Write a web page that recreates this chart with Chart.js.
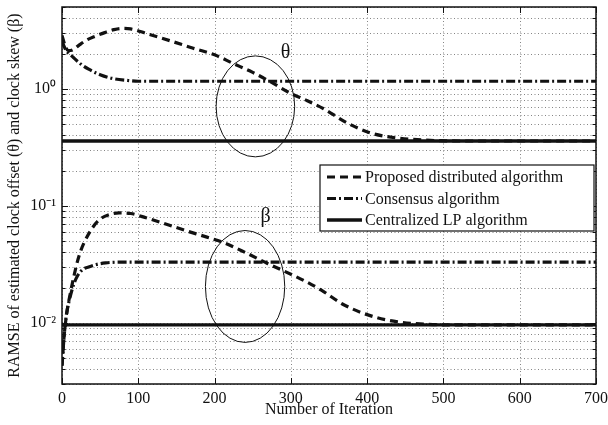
<!DOCTYPE html>
<html><head><meta charset="utf-8">
<script src="https://cdn.jsdelivr.net/npm/chart.js@4.4.0/dist/chart.umd.min.js"></script>
<style>html,body{margin:0;padding:0;background:#fff}#wrap{width:608px;height:425px}</style>
</head><body><div id="wrap"><canvas id="c" width="608" height="425"></canvas></div>
<script>
// ---- data ----
const xTicks = [0, 100, 200, 300, 400, 500, 600, 700];
const yMajorTicks = [0.01, 0.1, 1];

const proposedThetaIter = [0, 4, 8, 14, 22, 32, 44, 56, 68, 78, 90, 112, 142, 172, 200, 225, 250, 273, 299, 320, 343, 374, 404, 439, 473, 520, 600, 700];
const proposedTheta     = [2.85, 2.35, 2.12, 2.15, 2.35, 2.6, 2.82, 3.02, 3.2, 3.28, 3.25, 2.95, 2.57, 2.22, 1.95, 1.64, 1.38, 1.15, 0.92, 0.8, 0.675, 0.51, 0.42, 0.38, 0.365, 0.358, 0.358, 0.358];

const consensusThetaIter = [0, 5, 15, 25, 35, 50, 65, 85, 100, 700];
const consensusTheta     = [2.55, 2.15, 1.85, 1.62, 1.47, 1.32, 1.23, 1.18, 1.16, 1.16];

const centralThetaIter = [0, 700];
const centralTheta     = [0.358, 0.358];

const proposedBetaIter = [0, 3, 7, 11, 15, 20, 25, 30, 40, 50, 62, 75, 90, 110, 130, 160, 190, 210, 240, 270, 300, 320, 340, 370, 410, 440, 480, 520, 600, 700];
const proposedBeta     = [0.0043, 0.008, 0.013, 0.018, 0.024, 0.033, 0.042, 0.05, 0.065, 0.077, 0.084, 0.087, 0.086, 0.079, 0.072, 0.062, 0.054, 0.049, 0.040, 0.032, 0.026, 0.0225, 0.019, 0.0142, 0.0112, 0.0102, 0.0097, 0.0096, 0.0096, 0.0096];

const consensusBetaIter = [0, 3, 6, 10, 15, 20, 27, 35, 45, 57, 75, 100, 700];
const consensusBeta     = [0.0043, 0.008, 0.012, 0.016, 0.021, 0.025, 0.0285, 0.030, 0.0315, 0.0325, 0.033, 0.033, 0.033];

const centralBetaIter = [0, 700];
const centralBeta     = [0.0096, 0.0096];

const legendLabels = ['Proposed distributed algorithm', 'Consensus algorithm', 'Centralized LP algorithm'];

// annotation ellipses (data space bounds) and their labels
const thetaEllipse = {x0: 202, x1: 305, y0: 0.262, y1: 1.91};
const betaEllipse  = {x0: 188, x1: 292, y0: 0.0068, y1: 0.0615};
const thetaLabel = {x: 293, y: 2.03, text: 'θ'};
const betaLabel  = {x: 267, y: 0.0806, text: 'β'};

// ---- chart ----
const FONT = '"Liberation Serif", "Times New Roman", serif';
const pts = (xs, ys) => xs.map((x, i) => ({x, y: ys[i]}));
const styleDashed = {borderDash: [8, 5], borderWidth: 3.2};
const styleDashDot = {borderDash: [9, 3, 2, 3], borderWidth: 3.2};
const styleSolid = {borderDash: [], borderWidth: 3.4};
const GRID_DASH = [1, 2.5];

function ds(label, xs, ys, st) {
  return Object.assign({label, data: pts(xs, ys), borderColor: '#111', backgroundColor: '#111',
    pointRadius: 0, fill: false, cubicInterpolationMode: 'monotone', borderCapStyle: 'butt'}, st);
}

const datasets = [
  ds(legendLabels[2], centralThetaIter, centralTheta, styleSolid),
  ds(legendLabels[2], centralBetaIter, centralBeta, styleSolid),
  ds(legendLabels[1], consensusThetaIter, consensusTheta, styleDashDot),
  ds(legendLabels[1], consensusBetaIter, consensusBeta, styleDashDot),
  ds(legendLabels[0], proposedThetaIter, proposedTheta, styleDashed),
  ds(legendLabels[0], proposedBetaIter, proposedBeta, styleDashed),
];

const isPow10 = v => Math.abs(Math.log10(v) - Math.round(Math.log10(v))) < 1e-9;
const supMap = {'0':'⁰','1':'¹','2':'²','3':'³','4':'⁴','5':'⁵','6':'⁶','7':'⁷','8':'⁸','9':'⁹','-':'⁻'};
const powLabel = v => '10' + String(Math.round(Math.log10(v))).split('').map(c => supMap[c]).join('');

const deco = {
  id: 'deco',
  beforeDatasetsDraw(chart) {
    // dotted grid lines at every scale tick
    const {ctx, chartArea: a, scales: {x, y}} = chart;
    ctx.save();
    ctx.strokeStyle = '#858585'; ctx.lineWidth = 1;
    ctx.setLineDash(GRID_DASH);
    ctx.beginPath();
    for (const t of y.ticks) {
      const py = Math.round(y.getPixelForValue(t.value)) + 0.5;
      ctx.moveTo(a.left, py); ctx.lineTo(a.right, py);
    }
    for (const t of x.ticks) {
      const px = Math.round(x.getPixelForValue(t.value)) + 0.5;
      ctx.moveTo(px, a.top); ctx.lineTo(px, a.bottom);
    }
    ctx.stroke();
    ctx.restore();
  },
  afterDatasetsDraw(chart) {
    const {ctx, scales: {x, y}} = chart;
    ctx.save();
    ctx.strokeStyle = '#111'; ctx.lineWidth = 1;
    for (const e of [thetaEllipse, betaEllipse]) {
      const l = x.getPixelForValue(e.x0), r = x.getPixelForValue(e.x1);
      const t = y.getPixelForValue(e.y1), b = y.getPixelForValue(e.y0);
      ctx.beginPath();
      ctx.ellipse((l + r) / 2, (t + b) / 2, (r - l) / 2, (b - t) / 2, 0, 0, Math.PI * 2);
      ctx.stroke();
    }
    ctx.fillStyle = '#111';
    ctx.font = '20px ' + FONT;
    ctx.textAlign = 'center'; ctx.textBaseline = 'middle';
    for (const lb of [thetaLabel, betaLabel]) {
      ctx.fillText(lb.text, x.getPixelForValue(lb.x), y.getPixelForValue(lb.y));
    }
    ctx.restore();
  },
  afterDraw(chart) {
    const {ctx, chartArea: a, scales: {x, y}} = chart;
    ctx.save();
    ctx.strokeStyle = '#111';
    // inward tick marks
    ctx.lineWidth = 1;
    ctx.beginPath();
    for (const t of y.ticks) {
      const py = Math.round(y.getPixelForValue(t.value)) + 0.5;
      const len = isPow10(t.value) ? 6 : 3.5;
      ctx.moveTo(a.left, py); ctx.lineTo(a.left + len, py);
      ctx.moveTo(a.right, py); ctx.lineTo(a.right - len, py);
    }
    for (const v of xTicks) {
      const px = Math.round(x.getPixelForValue(v)) + 0.5;
      ctx.moveTo(px, a.bottom); ctx.lineTo(px, a.bottom - 6);
      ctx.moveTo(px, a.top); ctx.lineTo(px, a.top + 6);
    }
    ctx.stroke();
    // frame
    ctx.lineWidth = 1.5;
    ctx.strokeRect(a.left, a.top, a.right - a.left, a.bottom - a.top);
    // legend
    const bx0 = a.right - 276, bx1 = a.right - 2, by0 = a.top + 158, by1 = a.top + 224;
    ctx.fillStyle = '#fff';
    ctx.fillRect(bx0, by0, bx1 - bx0, by1 - by0);
    ctx.lineWidth = 1.2;
    ctx.strokeRect(bx0, by0, bx1 - bx0, by1 - by0);
    const styles = [styleDashed, styleDashDot, styleSolid];
    ctx.font = '16px ' + FONT;
    ctx.textAlign = 'left'; ctx.textBaseline = 'middle';
    for (let i = 0; i < 3; i++) {
      const ry = by0 + 12 + i * 21.5;
      ctx.setLineDash(styles[i].borderDash);
      ctx.lineWidth = styles[i].borderWidth;
      ctx.beginPath(); ctx.moveTo(bx0 + 7, ry); ctx.lineTo(bx0 + 42, ry); ctx.stroke();
      ctx.setLineDash([]);
      ctx.fillStyle = '#111';
      ctx.fillText(legendLabels[i], bx0 + 45, ry + 1);
    }
    ctx.restore();
  }
};

new Chart(document.getElementById('c'), {
  type: 'line',
  data: {datasets},
  options: {
    responsive: false, animation: false, devicePixelRatio: 1,
    layout: {padding: {top: 7, right: 12, left: 0, bottom: 0}},
    plugins: {legend: {display: false}, tooltip: {enabled: false}},
    scales: {
      x: {
        type: 'linear', min: 0, max: 700,
        afterBuildTicks: s => { s.ticks = xTicks.map(v => ({value: v})); },
        afterFit: s => { s.height = 41; s.paddingLeft = 0; s.paddingRight = 0; },
        ticks: {color: '#111', font: {family: FONT, size: 16}, padding: 5, maxRotation: 0, autoSkip: false},
        grid: {display: false, drawTicks: false},
        border: {display: false},
        title: {display: true, text: 'Number of Iteration', color: '#111', font: {family: FONT, size: 16}, padding: {top: 0, bottom: 6}}
      },
      y: {
        type: 'logarithmic', min: 0.003, max: 5,
        afterBuildTicks: s => {
          const t = [];
          for (const d of [0.001, 0.01, 0.1, 1]) for (let m = 1; m <= 9; m++) {
            const v = +(m * d).toPrecision(3);
            if (v >= 0.003 && v <= 5) t.push({value: v});
          }
          s.ticks = t;
        },
        afterFit: s => { s.width = 62; s.paddingTop = 0; s.paddingBottom = 0; },
        ticks: {color: '#111', font: {family: FONT, size: 16}, padding: 6, autoSkip: false,
          callback: v => yMajorTicks.some(m => Math.abs(m - v) < 1e-12) ? powLabel(v) : ''},
        grid: {display: false, drawTicks: false},
        border: {display: false},
        title: {display: true, text: 'RAMSE of estimated clock offset (θ) and clock skew (β)', color: '#111', font: {family: FONT, size: 16}, padding: {top: 5, bottom: 0}}
      }
    }
  },
  plugins: [deco]
});
</script>
</body></html>
